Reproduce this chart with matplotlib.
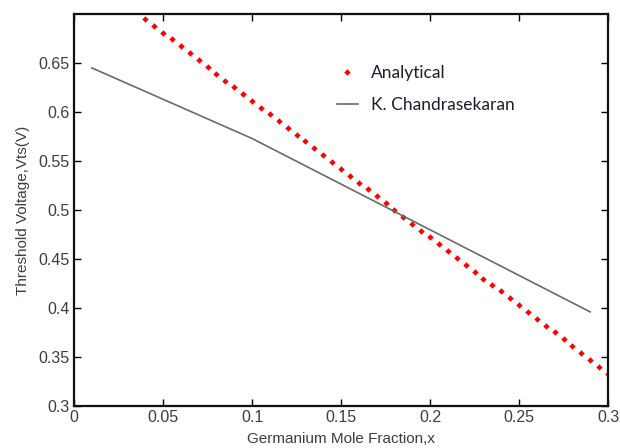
import numpy as np
import matplotlib.pyplot as plt

# germanium mole fraction vs threshold voltage
x_analytical = [0.040, 0.045, 0.050, 0.055, 0.060, 0.065, 0.070, 0.075, 0.080, 0.085,
                0.090, 0.095, 0.100, 0.105, 0.110, 0.115, 0.120, 0.125, 0.130, 0.135,
                0.140, 0.145, 0.150, 0.155, 0.160, 0.165, 0.170, 0.175, 0.180, 0.185,
                0.190, 0.195, 0.200, 0.205, 0.210, 0.215, 0.220, 0.225, 0.230, 0.235,
                0.240, 0.245, 0.250, 0.255, 0.260, 0.265, 0.270, 0.275, 0.280, 0.285,
                0.290, 0.295, 0.300]
vt_analytical = [0.695, 0.688, 0.681, 0.674, 0.667, 0.660, 0.653, 0.646, 0.639, 0.632,
                 0.625, 0.618, 0.611, 0.604, 0.598, 0.591, 0.584, 0.577, 0.570, 0.563,
                 0.556, 0.549, 0.542, 0.535, 0.528, 0.521, 0.514, 0.507, 0.500, 0.493,
                 0.486, 0.479, 0.472, 0.465, 0.458, 0.451, 0.444, 0.437, 0.430, 0.423,
                 0.417, 0.410, 0.403, 0.396, 0.389, 0.382, 0.375, 0.368, 0.361, 0.354,
                 0.347, 0.340, 0.333]

x_kc = [0.01, 0.10, 0.29]
vt_kc = [0.645, 0.573, 0.396]

xticks = [0, 0.05, 0.1, 0.15, 0.2, 0.25, 0.3]
xticklabels = ["0", "0.05", "0.1", "0.15", "0.2", "0.25", "0.3"]
yticks = [0.3, 0.35, 0.4, 0.45, 0.5, 0.55, 0.6, 0.65]
yticklabels = ["0.3", "0.35", "0.4", "0.45", "0.5", "0.55", "0.6", "0.65"]

txt = "#3c3c46"
plt.rcParams["font.family"] = ["Liberation Sans", "DejaVu Sans"]

fig = plt.figure(figsize=(6.2, 4.48), dpi=100)
ax = fig.add_axes([74/620, 42/448, 534/620, 392/448])

ax.plot(x_analytical, vt_analytical, linestyle="none", marker="D", markersize=3.3,
        color="#ff0000", markeredgewidth=0, label="Analytical")
ax.plot(x_kc, vt_kc, color="#6a6a6a", linewidth=1.2, label="K. Chandrasekaran")

ax.set_xlim(0, 0.3)
ax.set_ylim(0.3, 0.7)
ax.set_xticks(xticks)
ax.set_xticklabels(xticklabels)
ax.set_yticks(yticks)
ax.set_yticklabels(yticklabels)
ax.tick_params(direction="in", length=5, width=1, top=True, right=True,
               labelsize=11.5, labelcolor=txt, pad=3)
for s in ax.spines.values():
    s.set_linewidth(1.6)
    s.set_color("#111111")

ax.set_xlabel("Germanium Mole Fraction,x", fontsize=11, color=txt, labelpad=5)
ax.set_ylabel("Threshold Voltage,Vts(V)", fontsize=11, color=txt, labelpad=6)

leg = ax.legend(loc="upper left", bbox_to_anchor=(337/620, 1 - 65/448),
                bbox_transform=fig.transFigure, frameon=False, numpoints=1,
                handlelength=1.2, handletextpad=0.75, labelspacing=0.95,
                borderpad=0, borderaxespad=0,
                prop={"family": "Lato", "size": 12.5})
for t in leg.get_texts():
    t.set_color("#1c1c30")

fig.savefig("out.png", dpi=100)
